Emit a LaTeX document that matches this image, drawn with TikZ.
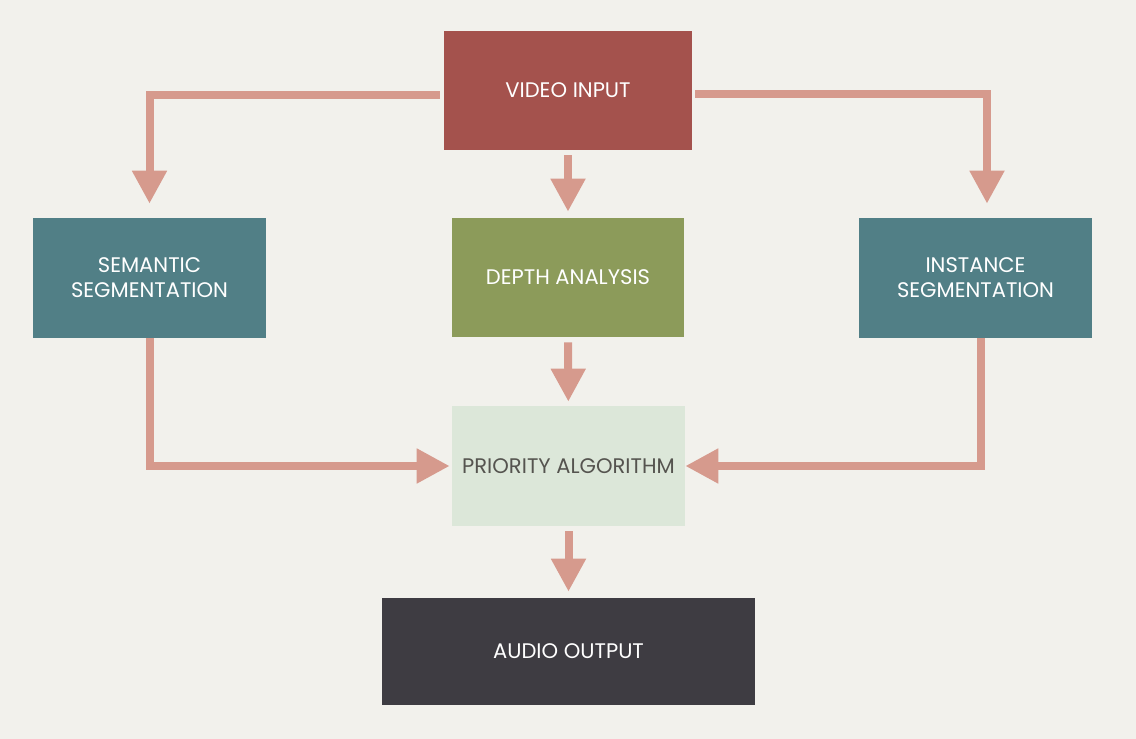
\documentclass[tikz,border=0pt]{standalone}
\usepackage{fontspec}
\setmainfont{Poppins}
\usetikzlibrary{%
  arrows.meta,%
  positioning,%
  calc%
}

\definecolor{paper}{HTML}{F2F1EC}
\definecolor{videored}{HTML}{A4524D}
\definecolor{segteal}{HTML}{517F86}
\definecolor{depthgreen}{HTML}{8C9B5A}
\definecolor{prioritygreen}{HTML}{DCE7D9}
\definecolor{audiogray}{HTML}{3E3C42}
\definecolor{arrowpink}{HTML}{D69A8D}
\definecolor{prioritytext}{HTML}{55544F}

\begin{document}
\begin{tikzpicture}
[x=0.02cm, y=-0.02cm,
stage/.style={rectangle, draw=none, inner sep=0pt, text=white, align=center,
  font=\fontsize{12}{14.2}\selectfont, minimum width=4.66cm, minimum height=2.4cm},
flow/.style={draw=arrowpink, line width=0.16cm, line join=miter,
  -{Triangle[width=0.66cm, length=0.66cm]}}]

% paper
\fill[paper] (0,0) rectangle (1136,739);
\useasboundingbox (0,0) rectangle (1136,739);

\node[stage, fill=videored, minimum width=4.96cm, minimum height=2.38cm] (video) at (568,90.5) {VIDEO INPUT};

\node[stage, fill=segteal] (semantic) at (149.5,278) {SEMANTIC\\SEGMENTATION};
\node[stage, fill=depthgreen, minimum width=4.64cm, minimum height=2.38cm] (depth) at (568,277.5) {DEPTH ANALYSIS};
\node[stage, fill=segteal] (instance) at (975.5,278) {INSTANCE\\SEGMENTATION};

\node[stage, fill=prioritygreen, text=prioritytext] (priority) at (568.5,466) {PRIORITY ALGORITHM};

\node[stage, fill=audiogray, minimum width=7.46cm, minimum height=2.14cm] (audio) at (568.5,651.5) {AUDIO OUTPUT};

% connectors
\draw[flow, shorten <=0.08cm, shorten >=0.28cm] ([yshift=-0.09cm]video.west) -| (semantic.north);
\draw[flow, shorten <=0.06cm, shorten >=0.28cm] ([yshift=-0.08cm]video.east) -| ([xshift=0.23cm]instance.north);
\draw[flow, shorten <=0.1cm, shorten >=0.12cm] (video) -- (depth);
\draw[flow, shorten <=0.1cm, shorten >=0.08cm] (depth) -- (priority);
\draw[flow, shorten >=0.04cm] (semantic.south) |- (priority.west);
\draw[flow] ([xshift=0.11cm]instance.south) |- (priority.east);
\draw[flow, shorten <=0.1cm, shorten >=0.12cm] (priority) -- (audio);

\end{tikzpicture}
\end{document}
